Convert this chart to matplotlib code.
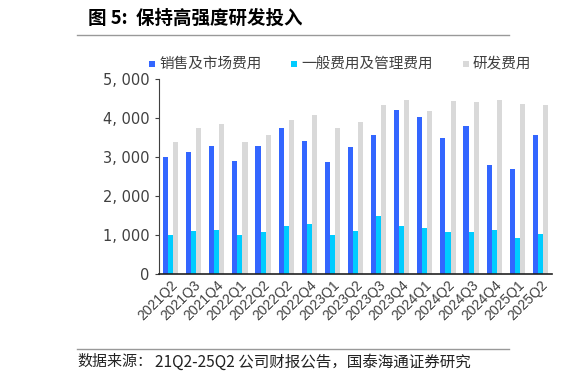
import matplotlib
matplotlib.use("Agg")
import matplotlib.pyplot as plt
from matplotlib.patches import Rectangle
from matplotlib.lines import Line2D
import matplotlib.transforms as mtransforms
import numpy as np

plt.rcParams['font.family'] = ['Noto Sans CJK SC', 'DejaVu Sans']

categories = ["2021Q2", "2021Q3", "2021Q4", "2022Q1", "2022Q2", "2022Q2", "2022Q4",
              "2023Q1", "2023Q2", "2023Q3", "2023Q4", "2024Q1", "2024Q2", "2024Q3",
              "2024Q4", "2025Q1", "2025Q2"]
sales_marketing = [3010, 3120, 3290, 2900, 3280, 3750, 3400, 2880, 3260, 3555, 4210,
                   4015, 3490, 3795, 2800, 2680, 3570]
general_admin = [990, 1115, 1130, 990, 1080, 1240, 1275, 995, 1105, 1480, 1235,
                 1175, 1070, 1070, 1140, 925, 1030]
rnd = [3390, 3750, 3835, 3385, 3570, 3955, 4080, 3740, 3900, 4340, 4465,
       4170, 4440, 4415, 4465, 4370, 4340]
series_names = ["销售及市场费用", "一般费用及管理费用", "研发费用"]
colors = ["#3366FF", "#00CCFF", "#D9D9D9"]
yticks = [0, 1000, 2000, 3000, 4000, 5000]

W, H = 587, 385
fig = plt.figure(figsize=(W / 100, H / 100), dpi=100)
ax = fig.add_axes([0.2709, 0.2883, 0.6695, 0.5065])

x = np.arange(len(categories))
w = 0.22
for i, (vals, c) in enumerate(zip([sales_marketing, general_admin, rnd], colors)):
    ax.bar(x + (i - 1) * w, vals, width=w, color=c, edgecolor='none')

ax.set_xlim(-0.5, len(categories) - 0.5)
ax.set_ylim(0, 5000)
ax.set_yticks(yticks)
ax.set_yticklabels([f"{v:,}".replace(",", ", ") for v in yticks], fontsize=10.5, color="#404040",
                   family=['DejaVu Sans'])
ax.set_xticks(x)
ax.set_xticklabels(categories, rotation=45, ha='right', va='top', rotation_mode='anchor',
                   fontsize=10, color="#404040", family=['Liberation Sans', 'DejaVu Sans'])
offset = mtransforms.ScaledTranslation(-4/100, 0, fig.dpi_scale_trans)
for lab in ax.get_xticklabels():
    lab.set_transform(lab.get_transform() + offset)
ax.tick_params(axis='x', length=0, pad=3)
ax.tick_params(axis='y', length=3, width=0.8, color="#404040", pad=4)
for s in ['top', 'right']:
    ax.spines[s].set_visible(False)
ax.spines['left'].set_color("#404040")
ax.spines['left'].set_linewidth(0.8)
ax.spines['bottom'].set_color("#222222")
ax.spines['bottom'].set_linewidth(1.2)

# legend drawn manually at reference positions
marker_x = [149, 291, 463]
ly = 63.5
ms = 6
for name, c, mx in zip(series_names, colors, marker_x):
    fig.add_artist(Rectangle((mx / W, 1 - (ly + ms / 2) / H), ms / W, ms / H,
                             facecolor=c, edgecolor='none', transform=fig.transFigure))
    fig.text((mx + 10) / W, 1 - ly / H, name, fontsize=10.5, va='center', ha='left',
             color="#404040")

# title and footer
fig.text(0.15, 0.953, "图 5:  保持高强度研发投入", fontsize=13.3, fontweight='bold',
         va='center', ha='left', color="#000000")
fig.add_artist(Line2D([77/W, 509/W], [1 - 35/H, 1 - 35/H], color="#999999", lw=1))
fig.add_artist(Line2D([77/W, 509/W], [1 - 349/H, 1 - 349/H], color="#999999", lw=1))
fig.text(77/W, 1 - 362/H, "数据来源：", fontsize=10.8, va='center', ha='left', color="#222222")
fig.text(155/W, 1 - 362/H, "21Q2-25Q2 公司财报公告，国泰海通证券研究", fontsize=11.2,
         va='center', ha='left', color="#222222")

fig.savefig("out.png", dpi=100)
